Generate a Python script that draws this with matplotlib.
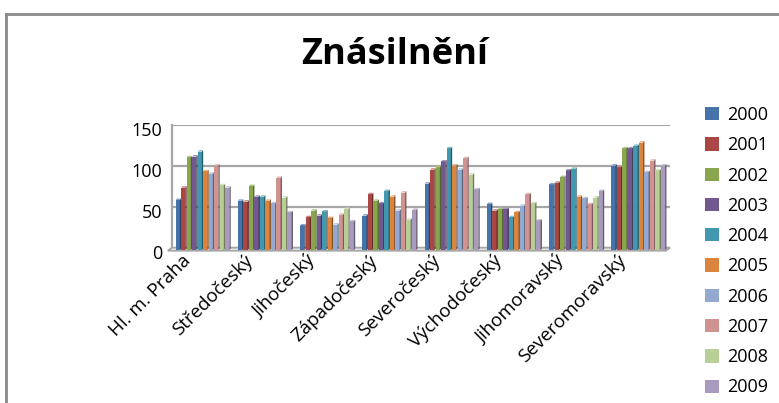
import numpy as np
import matplotlib.pyplot as plt
from matplotlib.patches import Polygon, Patch
from matplotlib.lines import Line2D
from matplotlib.transforms import ScaledTranslation

plt.rcParams['font.family'] = ['Open Sans', 'DejaVu Sans']

regions = ['Hl. m. Praha', 'Středočeský', 'Jihočeský', 'Západočeský',
           'Severočeský', 'Východočeský', 'Jihomoravský', 'Severomoravský']
years = ['2000', '2001', '2002', '2003', '2004',
         '2005', '2006', '2007', '2008', '2009']

# one row per region, one column per year
values = np.array([
    [60, 75, 112, 113, 119, 95, 92, 102, 78, 75],
    [59, 58, 77, 64, 64, 59, 56, 87, 63, 45],
    [29, 39, 47, 41, 46, 38, 30, 42, 49, 34],
    [41, 67, 59, 56, 71, 64, 47, 69, 36, 48],
    [80, 97, 100, 107, 123, 102, 97, 111, 91, 73],
    [55, 47, 49, 49, 39, 45, 53, 67, 56, 35],
    [79, 81, 88, 96, 98, 64, 62, 55, 63, 71],
    [102, 100, 123, 123, 126, 130, 94, 108, 96, 102],
])

colors = ['#4673AA', '#AA4644', '#89A54E', '#71588F', '#4198AF',
          '#DB843D', '#93A9CF', '#D19392', '#B9CD96', '#A99BBD']


def shade(c, f):
    rgb = np.array([int(c[i:i + 2], 16) for i in (1, 3, 5)]) / 255.0
    if f < 1:
        rgb = rgb * f
    else:
        rgb = rgb + (1 - rgb) * (f - 1)
    return np.clip(rgb, 0, 1)


fig = plt.figure(figsize=(7.79, 4.03), dpi=100)
ax = fig.add_axes([172 / 779, 1 - 247.7 / 403, 498 / 779, 123 / 403])
ax.set_xlim(-0.5, 7.5)
ax.set_ylim(0, 150)

# back wall gridlines
for v in [50, 100, 150]:
    ax.axhline(v, color='#A6A6A6', lw=1.6, zorder=0)
ax.plot([-0.5, -0.5], [0, 150], color='#A6A6A6', lw=1.6, clip_on=False, zorder=0)

# floor of the 3d chart
fl = 0.065
fd = 3.6
floor = Polygon([(-0.5, 0), (7.5, 0), (7.5 - fl, -fd), (-0.5 - fl, -fd)],
                closed=True, facecolor='white', edgecolor='#A6A6A6',
                lw=1.4, clip_on=False, zorder=1)
ax.add_patch(floor)

pitch = 0.0885
w = 0.066
dx = 0.022
dy = 1.8
for g in range(len(regions)):
    for i in range(len(years)):
        v = values[g, i]
        x0 = g + (i - 4.5) * pitch - w / 2 - 0.01
        c = colors[i]
        front = Polygon([(x0, -fd + 0.6), (x0 + w, -fd + 0.6), (x0 + w, v - dy), (x0, v - dy)],
                        closed=True, facecolor=shade(c, 1.0), edgecolor='none',
                        clip_on=False, zorder=3)
        side = Polygon([(x0 + w, -fd + 0.6), (x0 + w + dx, -fd + 0.6 + dy),
                        (x0 + w + dx, v), (x0 + w, v - dy)],
                       closed=True, facecolor=shade(c, 0.6), edgecolor='none',
                       clip_on=False, zorder=3)
        top = Polygon([(x0, v - dy), (x0 + dx, v), (x0 + w + dx, v), (x0 + w, v - dy)],
                      closed=True, facecolor=shade(c, 1.35), edgecolor='none',
                      clip_on=False, zorder=3)
        ax.add_patch(front)
        ax.add_patch(side)
        ax.add_patch(top)

for s in ax.spines.values():
    s.set_visible(False)

ax.set_yticks([0, 50, 100, 150])
ax.tick_params(axis='y', length=0, pad=7, labelsize=13)
for lab in ax.get_yticklabels():
    lab.set_transform(lab.get_transform() + ScaledTranslation(0, -0.04, fig.dpi_scale_trans))
ax.set_xticks(range(len(regions)))
ax.set_xticklabels(regions, rotation=45, ha='right', va='center',
                   rotation_mode='anchor', fontsize=13.5)
ax.tick_params(axis='x', length=0, pad=6)
for lab in ax.get_xticklabels():
    lab.set_transform(lab.get_transform() + ScaledTranslation(-0.15, -0.02, fig.dpi_scale_trans))

fig.text(395 / 779, 1 - 55 / 403, 'Znásilnění', ha='center', va='center',
         fontsize=26, fontweight='bold')

handles = [Patch(facecolor=c, edgecolor='none') for c in colors]
fig.legend(handles, years, loc='upper left', bbox_to_anchor=(705 / 779, 1 - 106 / 403),
           frameon=False, fontsize=13, handlelength=0.8, handleheight=0.75,
           handletextpad=0.4, labelspacing=0.68, borderpad=0, borderaxespad=0)

# chart area border
fig.add_artist(Line2D([6 / 779, 1.0], [1 - 14 / 403, 1 - 14 / 403],
                      color='#8A8A8A', lw=2, transform=fig.transFigure))
fig.add_artist(Line2D([6 / 779, 6 / 779], [0, 1 - 14 / 403],
                      color='#8A8A8A', lw=2, transform=fig.transFigure))

fig.savefig('out.png', dpi=100)
